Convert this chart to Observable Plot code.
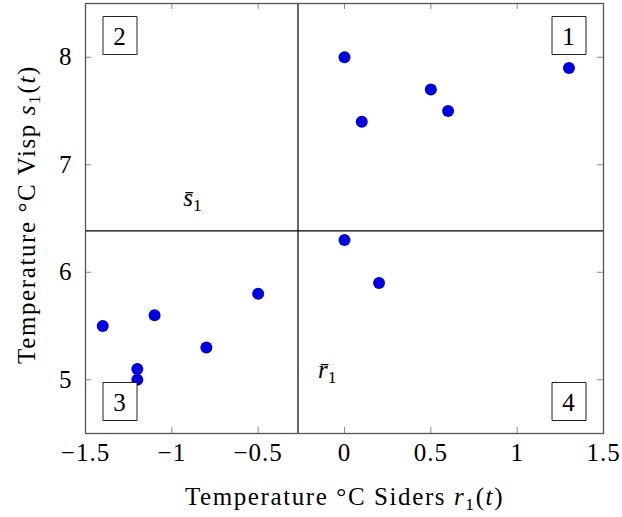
<!DOCTYPE html>
<html><head><meta charset="utf-8">
<script src="https://cdn.jsdelivr.net/npm/d3@7"></script>
<script src="https://cdn.jsdelivr.net/npm/@observablehq/plot@0.6"></script>
<style>
body{margin:0;background:#fff}
#chart svg, #chart svg text, #chart svg tspan {font-family: "Liberation Serif", "Times New Roman", serif !important;}
</style>
</head><body><div id="chart"></div>
<script>
// ---- data ----
const rValues = [0, 0.1, 0.5, 0.6, 1.3, 0, 0.2, -1.4, -1.2, -1.2, -1.1, -0.8, -0.5];
const sValues = [8.0, 7.4, 7.7, 7.5, 7.9, 6.3, 5.9, 5.5, 5.1, 5.0, 5.6, 5.3, 5.8];
const xTicks = [-1.5, -1, -0.5, 0, 0.5, 1, 1.5];
const yTicks = [5, 6, 7, 8];
const quadrantNames = ["1", "2", "3", "4"];
const quadrantAnchors = ["top-right", "top-left", "bottom-left", "bottom-right"];
const meanLabelText = ["s̄1", "r̄1"];
const meanLabelR = [-0.88, -0.10];
const meanLabelS = [6.69, 5.09];
const xLabel = "Temperature °C Siders r1(t)";
const yLabel = "Temperature °C Visp s1(t)";

// ---- layout ----
const W = 622, H = 517, ML = 85, MR = 19, MT = 3, MB = 84;
const innerW = W - ML - MR, innerH = H - MT - MB;
const FS = 25;
const points = rValues.map((r, i) => ({r, s: sValues[i]}));
const meanR = d3.mean(rValues), meanS = d3.mean(sValues);
const meanLabels = meanLabelText.map((t, i) => ({t, r: meanLabelR[i], s: meanLabelS[i]}));
const fmt = d3.format("");
const boxSymbol = {draw(ctx) { ctx.moveTo(-17, -19); ctx.lineTo(17, -19); ctx.lineTo(17, 19); ctx.lineTo(-17, 19); ctx.closePath(); }};
const tickColor = "#8a8a8a";
const serif = "Liberation Serif";

const quadMarks = quadrantNames.flatMap((q, i) => {
  const a = quadrantAnchors[i];
  const dx = a.endsWith("left") ? 34.5 : -34.5;
  const dy = a.startsWith("top") ? 32 : -32;
  return [
    Plot.dot([q], {frameAnchor: a, dx, dy, symbol: boxSymbol, r: 5, fill: "white", stroke: "#222", strokeWidth: 1}),
    Plot.text([q], {frameAnchor: a, dx, dy: dy + 1, text: d => d, textAnchor: "middle", lineAnchor: "middle", fontSize: FS, fontFamily: serif, fill: "black"})
  ];
});

const chart = Plot.plot({
  width: W, height: H,
  marginLeft: ML, marginRight: MR, marginTop: MT, marginBottom: MB,
  style: {fontFamily: serif, fontSize: FS + "px", color: "black", background: "white"},
  x: {domain: [-1.5, 1.5]},
  y: {domain: [4.5, 8.5]},
  marks: [
    Plot.ruleX([meanR], {stroke: "black", strokeWidth: 1.2}),
    Plot.ruleY([meanS], {stroke: "black", strokeWidth: 1.2}),
    Plot.tickX(xTicks, {x: d => d, insetTop: innerH - 6, stroke: tickColor}),
    Plot.tickX(xTicks, {x: d => d, insetBottom: innerH - 6, stroke: tickColor}),
    Plot.tickY(yTicks, {y: d => d, insetRight: innerW - 6, stroke: tickColor}),
    Plot.tickY(yTicks, {y: d => d, insetLeft: innerW - 6, stroke: tickColor}),
    Plot.frame({stroke: "#555", strokeWidth: 1.3}),
    Plot.axisX(xTicks, {tickSize: 0, tickPadding: 10, tickFormat: fmt, label: null, fontSize: FS, fontFamily: serif}),
    Plot.axisY(yTicks, {tickSize: 0, tickPadding: 13, tickFormat: fmt, label: null, fontSize: FS, fontFamily: serif}),
    Plot.dot(points, {x: "r", y: "s", r: 6, fill: "#0000dd", stroke: "none"}),
    ...quadMarks,
    Plot.text(meanLabels, {x: "r", y: "s", text: "t", fontSize: FS, fontFamily: serif, fill: "black"}),
    Plot.text([xLabel], {frameAnchor: "bottom", dy: 63, text: d => d, textAnchor: "middle", lineAnchor: "middle", fontSize: FS, fontFamily: serif, fill: "black"}),
    Plot.text([yLabel], {frameAnchor: "left", dx: -59, dy: -4, rotate: -90, text: d => d, textAnchor: "middle", lineAnchor: "middle", fontSize: FS, fontFamily: serif, fill: "black"})
  ]
});
document.getElementById("chart").append(chart);

// ---- rich text: italic variables and subscripts ----
const NS = "http://www.w3.org/2000/svg";
const richParts = {
  [xLabel]: [["Temperature °C Siders ", ""], ["r", "i"], ["1", "sub"], ["(", ""], ["t", "i"], [")", ""]],
  [yLabel]: [["Temperature °C Visp ", ""], ["s", "i"], ["1", "sub"], ["(", ""], ["t", "i"], [")", ""]],
  [meanLabelText[0]]: [["s̄", "i"], ["1", "sub"]],
  [meanLabelText[1]]: [["r̄", "i"], ["1", "sub"]]
};
chart.querySelectorAll("text").forEach(el => {
  const key = el.textContent;
  const parts = richParts[key];
  if (/^[−\d.]+$/.test(key)) el.setAttribute("letter-spacing", "1");
  if (!parts) return;
  if (key === xLabel || key === yLabel) el.setAttribute("letter-spacing", "1.6");
  while (el.firstChild) el.removeChild(el.firstChild);
  let shifted = false;
  for (const [str, kind] of parts) {
    const ts = document.createElementNS(NS, "tspan");
    ts.textContent = str;
    if (kind === "i") ts.setAttribute("font-style", "italic");
    if (kind === "sub") {
      ts.setAttribute("font-size", (FS * 0.7) + "px");
      ts.setAttribute("dy", "5");
      shifted = true;
    } else if (shifted) {
      ts.setAttribute("dy", "-5");
      shifted = false;
    }
    el.appendChild(ts);
  }
});
</script>
</body></html>
